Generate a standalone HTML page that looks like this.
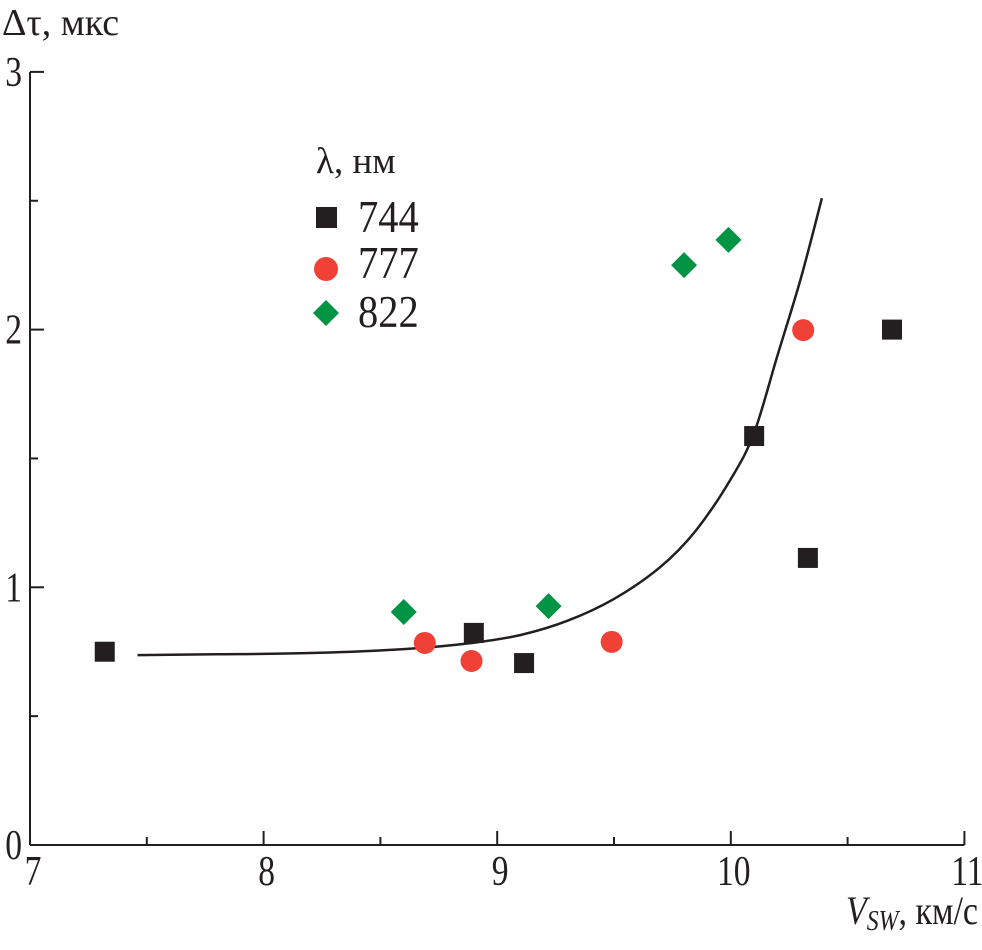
<!DOCTYPE html>
<html><head><meta charset="utf-8"><style>
html,body{margin:0;padding:0;background:#fff}
svg text{font-family:"Liberation Serif",serif;fill:#231f20}
</style></head><body>
<svg id="chart" width="982" height="945" viewBox="0 0 982 945" xmlns="http://www.w3.org/2000/svg">
<g id="axes"></g>
<g id="marks"></g>
<text transform="translate(2,35)" font-size="38">Δτ, мкс</text>
<text transform="translate(978,924) scale(0.85,1)" text-anchor="end" font-size="40"><tspan font-style="italic">V</tspan><tspan font-style="italic" font-size="28" dy="6">SW</tspan><tspan dy="-6">, км/с</tspan></text>
<g>
<text transform="translate(316,173)" font-size="37">λ, нм</text>
<rect x="316" y="207" width="21" height="21" fill="#231f20"/>
<text transform="translate(358,232) scale(0.9,1)" font-size="45">744</text>
<circle cx="326" cy="269" r="12" fill="#ef4136"/>
<text transform="translate(358,278) scale(0.9,1)" font-size="45">777</text>
<polygon points="326,300 339,313 326,326 313,313" fill="#009444"/>
<text transform="translate(358,327) scale(0.9,1)" font-size="45">822</text>
</g>
</svg>
<script>
const xTicks=[7,8,9,10,11];
const yTicks=[0,1,2,3];
const s744x=[7.32,8.90,9.115,10.10,10.33,10.69];
const s744y=[0.75,0.823,0.706,1.587,1.114,2.0];
const s777x=[8.69,8.89,9.49,10.31];
const s777y=[0.784,0.714,0.788,1.998];
const s822x=[8.60,9.22,9.80,9.99];
const s822y=[0.904,0.927,2.25,2.348];
const fitX=[7.46,7.8,8.2,8.6,8.9,9.1,9.3,9.5,9.7,9.85,10.0,10.1,10.2,10.3,10.39];
const fitY=[0.737,0.74,0.745,0.76,0.785,0.815,0.87,0.955,1.08,1.22,1.42,1.6,1.9,2.2,2.51];
const X=v=>30+(v-7)*233.6;
const Y=v=>845-v*257.7;
const NS="http://www.w3.org/2000/svg";
const ax=document.getElementById('axes'), mk=document.getElementById('marks');
function el(t,a,p){const e=document.createElementNS(NS,t);for(const k in a)e.setAttribute(k,a[k]);p.appendChild(e);return e;}
let e=el('line',{x1:X(7),y1:Y(3),x2:X(7),y2:Y(0),stroke:'#231f20','stroke-width':2},ax);


e=el('line',{x1:X(7),y1:Y(0),x2:X(11),y2:Y(0),stroke:'#231f20','stroke-width':2},ax);


for(let v=7.5;v<=11;v+=0.5){e=el('line',{x1:X(v),y1:Y(0),x2:X(v),y2:Y(0)-(v%1?8:14),stroke:'#231f20','stroke-width':2},ax);

}
for(let v=0.5;v<=3;v+=0.5){e=el('line',{x1:X(7),y1:Y(v),x2:X(7)+(v%1?8:14),y2:Y(v),stroke:'#231f20','stroke-width':2},ax);

}
xTicks.forEach(v=>{e=el('text',{transform:`translate(${X(v)+3},885) scale(0.8,1)`,'font-size':42,'text-anchor':'middle'},ax);e.textContent=v;

});
yTicks.forEach(v=>{e=el('text',{transform:`translate(22,${Y(v)+14}) scale(0.8,1)`,'font-size':42,'text-anchor':'end'},ax);e.textContent=v;

});
const P=fitX.map((v,i)=>[X(v),Y(fitY[i])]);
let d='M'+P[0][0].toFixed(1)+','+P[0][1].toFixed(1);
for(let i=0;i<P.length-1;i++){const p0=P[Math.max(0,i-1)],p1=P[i],p2=P[i+1],p3=P[Math.min(P.length-1,i+2)];
const c1=[p1[0]+(p2[0]-p0[0])/6,p1[1]+(p2[1]-p0[1])/6],c2=[p2[0]-(p3[0]-p1[0])/6,p2[1]-(p3[1]-p1[1])/6];
d+=`C${c1[0].toFixed(1)},${c1[1].toFixed(1)} ${c2[0].toFixed(1)},${c2[1].toFixed(1)} ${p2[0].toFixed(1)},${p2[1].toFixed(1)}`;}
e=el('path',{d:d,fill:'none',stroke:'#231f20','stroke-width':2.5},mk);


s744x.forEach((v,i)=>{e=el('rect',{x:X(v)-10,y:Y(s744y[i])-10,width:20,height:20,fill:'#231f20'},mk);

});
s777x.forEach((v,i)=>{e=el('circle',{cx:X(v),cy:Y(s777y[i]),r:11,fill:'#ef4136'},mk);

});
s822x.forEach((v,i)=>{const cx=X(v),cy=Y(s822y[i]);e=el('polygon',{points:`${cx},${cy-13} ${cx+13},${cy} ${cx},${cy+13} ${cx-13},${cy}`,fill:'#009444'},mk);

});
</script>
</body></html>
